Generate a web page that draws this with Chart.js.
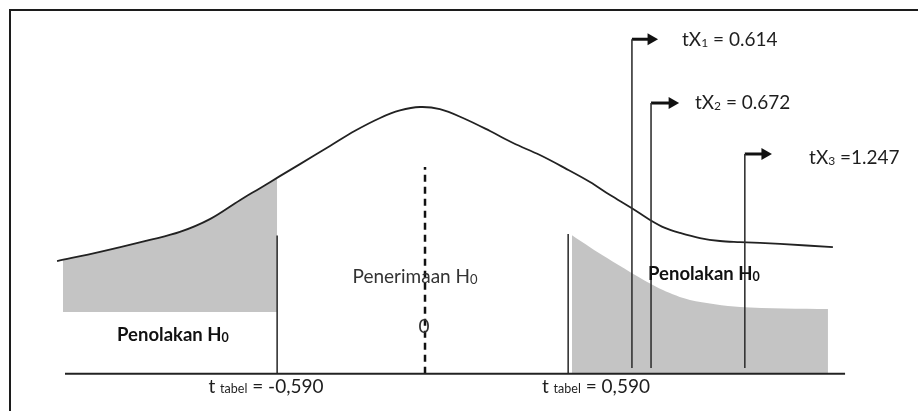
<!DOCTYPE html>
<html>
<head>
<meta charset="utf-8">
<script src="https://cdn.jsdelivr.net/npm/chart.js@4.4.1/dist/chart.umd.min.js"></script>
<style>
    html, body { margin: 0; padding: 0; background: #fff; overflow: hidden; }
    #wrap { position: relative; width: 918px; height: 411px; }
    #frame { position: absolute; left: 9px; top: 9px; width: 930px; height: 420px;
             border-left: 2px solid #1c1c1c; border-top: 2px solid #1c1c1c; }
    #chart { position: absolute; left: 0; top: 0; }
</style>
</head>
<body>
<div id="wrap">
    <div id="frame"></div>
    <canvas id="chart" width="918" height="411"></canvas>
</div>
<script>
// sketch of the t distribution curve, x in t units, y in relative height
var curveX = [-1.470, -1.297, -1.096, -0.975, -0.854, -0.733, -0.652, -0.572, -0.491, -0.370, -0.269, -0.168,
              -0.088, -0.007, 0.073, 0.166, 0.275, 0.368, 0.476, 0.577, 0.678, 0.759, 0.847, 0.920,
              0.980, 1.041, 1.121, 1.202, 1.283, 1.444, 1.657];
var curveY = [0.422, 0.456, 0.501, 0.531, 0.579, 0.650, 0.695, 0.740, 0.785, 0.853, 0.910, 0.958,
              0.986, 0.999, 0.991, 0.958, 0.909, 0.864, 0.819, 0.770, 0.718, 0.669, 0.620, 0.576,
              0.546, 0.527, 0.508, 0.497, 0.493, 0.486, 0.474];

// left rejection area (shaded)
var leftAreaX = [-1.446, -1.297, -1.096, -0.975, -0.854, -0.733, -0.652, -0.583];
var leftAreaY = [0.428, 0.456, 0.501, 0.531, 0.579, 0.650, 0.695, 0.732];
var leftAreaBase = 0.231;

// right rejection area (shaded)
var rightAreaX = [0.605, 0.678, 0.747, 0.839, 0.972, 1.081, 1.283, 1.637];
var rightAreaY = [0.519, 0.474, 0.433, 0.381, 0.313, 0.276, 0.250, 0.242];

// t table borders
var tTabelX = [-0.583, 0.590];
var tTabelTop = [0.518, 0.523];
var tTabelLabels = ['-0,590', '0,590'];

// centre line
var centreX = 0.013;
var centreTop = 0.774;

// t statistics of X1, X2, X3
var tStatNames = ['1', '2', '3'];
var tStatValues = ['= 0.614', '= 0.672', '=1.247'];
var tStatX = [0.847, 0.924, 1.302];
var tStatTop = [1.253, 1.014, 0.823];
var tStatArrowEnd = [0.924, 1.009, 1.383];
var tStatBottom = 0.021;

// axis line
var axisX = [-1.438, 1.706];

function toPoints(xs, ys) {
    return xs.map(function (x, i) {
        return { x: x, y: ys[i] };
    });
}

function lineSet(points, opts) {
    var ds = {
        data: points,
        showLine: true,
        borderColor: '#2a2a2a',
        borderWidth: 1.6,
        pointRadius: 0,
        fill: false,
        tension: 0,
        order: 1
    };
    for (var k in opts) ds[k] = opts[k];
    return ds;
}

var datasets = [];

// shaded areas drawn under everything
datasets.push(lineSet(toPoints(leftAreaX, leftAreaY), {
    borderWidth: 0, backgroundColor: '#c4c4c4', fill: { value: leftAreaBase }, tension: 0.3, order: 10
}));
datasets.push(lineSet(toPoints(rightAreaX, rightAreaY), {
    borderWidth: 0, backgroundColor: '#c4c4c4', fill: 'origin', tension: 0.3, order: 10
}));

// curve
datasets.push(lineSet(toPoints(curveX, curveY), { borderWidth: 1.8, borderColor: '#222', tension: 0.35, order: 2 }));

// axis
datasets.push(lineSet([{ x: axisX[0], y: 0 }, { x: axisX[1], y: 0 }], { borderWidth: 2, borderColor: '#222' }));

// t tabel lines
tTabelX.forEach(function (x, i) {
    datasets.push(lineSet([{ x: x, y: 0 }, { x: x, y: tTabelTop[i] }], { borderColor: '#333' }));
});

// dashed centre line
datasets.push(lineSet([{ x: centreX, y: 0 }, { x: centreX, y: centreTop }], {
    borderColor: '#111', borderWidth: 2.5, borderDash: [7, 5]
}));

// t statistic lines with arrows
tStatX.forEach(function (x, i) {
    datasets.push(lineSet([{ x: x, y: tStatBottom }, { x: x, y: tStatTop[i] }], { borderColor: '#333' }));
    datasets.push(lineSet([{ x: x, y: tStatTop[i] }, { x: tStatArrowEnd[i], y: tStatTop[i] }], {
        borderColor: '#111', borderWidth: 3,
        pointRadius: [0, 7], pointStyle: 'triangle', rotation: 90,
        pointBackgroundColor: '#111', pointBorderColor: '#111', pointBorderWidth: 0
    }));
});

// text labels: each is a list of parts [text, size, bold, dy]
var FONT = 'Lato, "Open Sans", sans-serif';
var labels = [];
tStatX.forEach(function (x, i) {
    labels.push({
        x: [1.049, 1.101, 1.561][i], y: [1.250, 1.014, 0.808][i], align: 'left', color: '#1e1e1e',
        parts: [['tX', 19, false, 0], [tStatNames[i], 12, false, 3], [' ' + tStatValues[i], 19, false, 0]]
    });
});
labels.push({ x: -0.027, y: 0.362, align: 'center', color: '#333',
    parts: [['Penerimaan H', 19, false, 0], ['0', 13, false, 3]] });
labels.push({ x: 0.009, y: 0.175, align: 'center', color: '#333', parts: [['0', 19, false, 0]] });
labels.push({ x: -1.003, y: 0.145, align: 'center', color: '#111',
    parts: [['Penolakan H', 18.5, true, 0], ['0', 12.5, true, 3]] });
labels.push({ x: 1.137, y: 0.373, align: 'center', color: '#111',
    parts: [['Penolakan H', 18.5, true, 0], ['0', 12.5, true, 3]] });
tTabelX.forEach(function (x, i) {
    labels.push({
        x: [-0.628, 0.702][i], y: -0.050, align: 'center', color: '#1e1e1e',
        parts: [['t ', 19, false, 0], ['tabel', 12.5, false, 2], [' = ' + tTabelLabels[i], 19, false, 0]]
    });
});

var textPlugin = {
    id: 'sketchText',
    afterDatasetsDraw: function (chart) {
        var ctx = chart.ctx;
        var xs = chart.scales.x, ys = chart.scales.y;
        ctx.save();
        ctx.textBaseline = 'middle';
        ctx.textAlign = 'left';
        labels.forEach(function (lab) {
            var total = 0;
            lab.parts.forEach(function (p) {
                ctx.font = (p[2] ? 'bold ' : '') + p[1] + 'px ' + FONT;
                total += ctx.measureText(p[0]).width;
            });
            var px = xs.getPixelForValue(lab.x);
            var py = ys.getPixelForValue(lab.y);
            if (lab.align === 'center') px -= total / 2;
            ctx.fillStyle = lab.color;
            lab.parts.forEach(function (p) {
                ctx.font = (p[2] ? 'bold ' : '') + p[1] + 'px ' + FONT;
                ctx.fillText(p[0], px, py + p[3]);
                px += ctx.measureText(p[0]).width;
            });
        });
        ctx.restore();
    }
};

new Chart(document.getElementById('chart').getContext('2d'), {
    type: 'scatter',
    data: { datasets: datasets },
    options: {
        responsive: false,
        animation: false,
        devicePixelRatio: 1,
        layout: { padding: 0, autoPadding: false },
        scales: {
            x: { type: 'linear', min: -1.7, max: 2.0, display: false },
            y: { type: 'linear', min: -0.14, max: 1.4, display: false }
        },
        plugins: {
            legend: { display: false },
            tooltip: { enabled: false }
        }
    },
    plugins: [textPlugin]
});
</script>
</body>
</html>
